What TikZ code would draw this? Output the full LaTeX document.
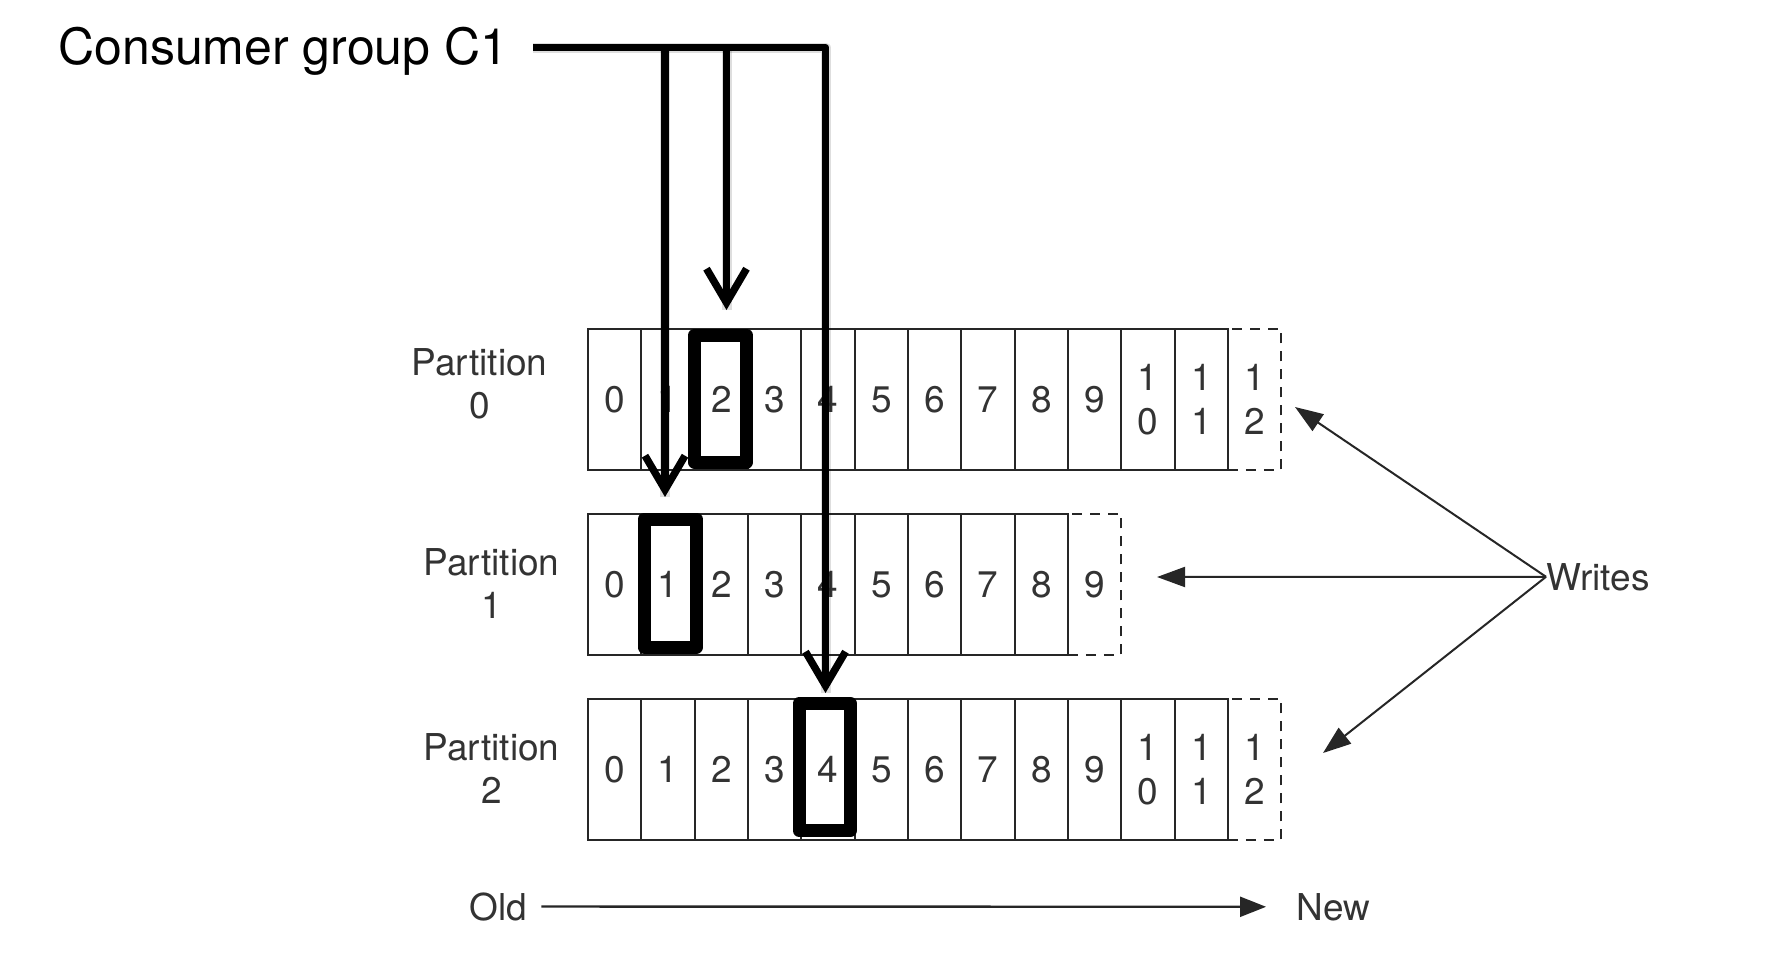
\documentclass[tikz,border=0pt]{standalone}
\usepackage{fontspec}
\setmainfont{TeX Gyre Heros}
\usetikzlibrary{arrows.meta}
\newcommand\digitfont{\fontsize{18.5}{22}\selectfont}
\newcommand\lblfont{\fontsize{18.5}{21.5}\selectfont}
\newcommand\bigfont{\fontsize{25}{29}\selectfont}
\begin{document}
\begin{tikzpicture}[x=0.5pt,y=-0.5pt,
  cellbox/.style={draw=black!85, line width=1.1pt, minimum width=26.67pt, minimum height=70.5pt, inner sep=0pt, text=black!80, font=\digitfont, align=center},
  newcell/.style={cellbox, dash pattern=on 5pt off 4pt},
  readbox/.style={draw=black, line width=6.5pt, line join=round},
  readline/.style={draw=black, line width=3.7pt, line join=round, -{Straight Barb[length=17pt,width=20pt]}},
  shadowline/.style={draw=black, line width=5pt, line join=round, opacity=0.13},
  writearrow/.style={draw=black!85, line width=1pt, -{Triangle[length=14pt,width=10pt]}},
  lbl/.style={font=\lblfont, text=black!80, inner sep=0pt, align=center}
]
\useasboundingbox (0,0) rectangle (1776,958);
\fill[white] (0,0) rectangle (1776,958);

% partition 0
\foreach \i/\t in {0/0,1/1,2/2,3/3,4/4,5/5,6/6,7/7,8/8,9/9,10/{1\\0},11/{1\\1}}
  \node[cellbox] (p0c\i) at ({588+53.33*(\i+0.5)},399.5) {\t};
\node[newcell] (p0c12) at ({588+53.33*12.5},399.5) {1\\2};
% partition 1
\foreach \i/\t in {0/0,1/1,2/2,3/3,4/4,5/5,6/6,7/7,8/8}
  \node[cellbox] (p1c\i) at ({588+53.33*(\i+0.5)},584.5) {\t};
\node[newcell] (p1c9) at ({588+53.33*9.5},584.5) {9};
% partition 2
\foreach \i/\t in {0/0,1/1,2/2,3/3,4/4,5/5,6/6,7/7,8/8,9/9,10/{1\\0},11/{1\\1}}
  \node[cellbox] (p2c\i) at ({588+53.33*(\i+0.5)},769.5) {\t};
\node[newcell] (p2c12) at ({588+53.33*12.5},769.5) {1\\2};

% partition labels
\node[lbl, anchor=north] (lp0) at (479.5,348) {Partition\\0};
\node[lbl, anchor=north] (lp1) at (491.5,548) {Partition\\1};
\node[lbl, anchor=north] (lp2) at (491.5,733) {Partition\\2};

% read positions
\draw[readbox] (694.5,335) rectangle (746.5,462);
\draw[readbox] (644,519) rectangle (696.5,647);
\draw[readbox] (799,703.5) rectangle (850.5,830.5);

% consumer group
\node[font=\bigfont, anchor=base west, inner sep=0pt] (cg) at (58,64) {Consumer group C1};
\coordinate (h0) at (533,47.5);
\coordinate (hR) at (825.5,47.5);
\coordinate (t0) at (726.5,310);
\coordinate (t1) at (665,497);
\coordinate (t2) at (825.5,693);

\begin{scope}[xshift=1.5pt,yshift=-3pt]
  \draw[shadowline] (h0) -- (hR) -- (t2);
  \draw[shadowline] (h0 -| t1) -- (t1);
  \draw[shadowline] (h0 -| t0) -- (t0);
\end{scope}
\draw[readline] (h0) -- (hR) -- (t2);
\draw[readline] (h0 -| t1) -- (t1);
\draw[readline] (h0 -| t0) -- (t0);

% writes
\node[lbl, anchor=base west] (writes) at (1546,590) {Writes};
\coordinate (w0) at (1295,407);
\coordinate (w1) at (1157,577);
\coordinate (w2) at (1323,753);
\draw[writearrow] (writes.west) -- (w0);
\draw[writearrow] (writes.west) -- (w1);
\draw[writearrow] (writes.west) -- (w2);

% old / new
\node[lbl, anchor=base west] (old) at (469,920) {Old};
\node[lbl, anchor=base west] (new) at (1296,920) {New};
\draw[line width=1.2pt, draw=black!85, -{Triangle[length=13pt,width=10pt]}] ([xshift=7pt]old.east) -- ([xshift=-15pt]new.west);
\end{tikzpicture}
\end{document}
